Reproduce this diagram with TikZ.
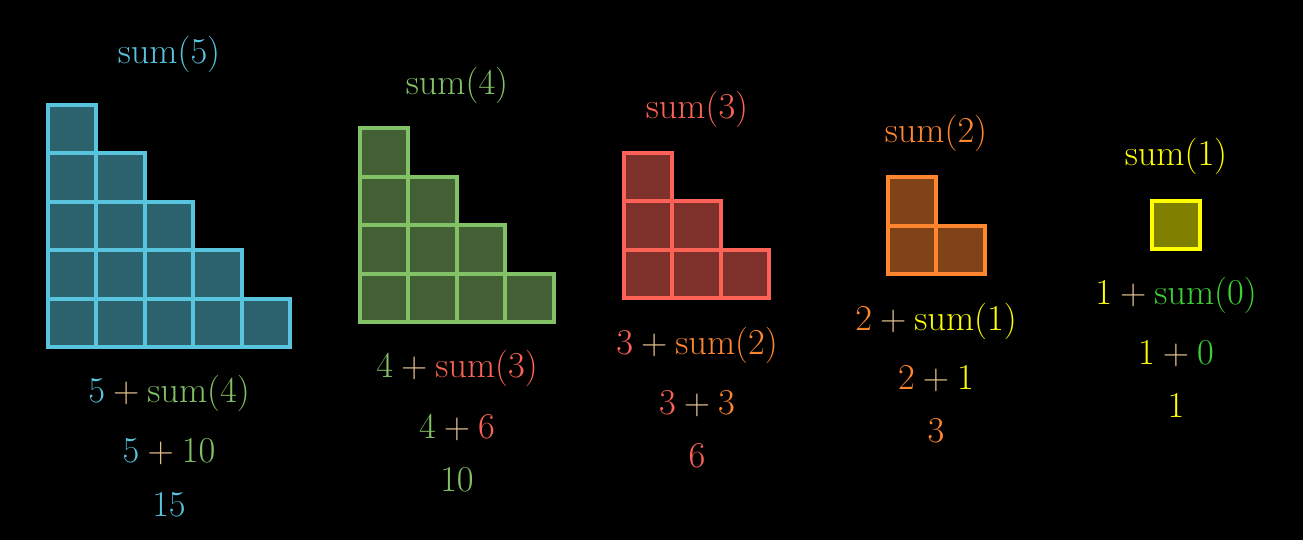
\documentclass[tikz,border=0pt]{standalone}
\usepackage{xcolor}
\definecolor{cblue}{RGB}{88,196,221}
\definecolor{cgreen}{RGB}{131,193,103}
\definecolor{cred}{RGB}{252,98,85}
\definecolor{corange}{RGB}{255,134,47}
\definecolor{cyellow}{RGB}{255,255,0}
\definecolor{cplus}{RGB}{225,190,140}
\definecolor{czero}{RGB}{60,210,50}

% one staircase: #1 size, #2 left, #3 bottom, #4 colour
\newcommand{\stairs}[4]{%
  \foreach \r in {1,...,#1}{%
    \pgfmathtruncatemacro{\w}{#1-\r+1}%
    \foreach \j in {1,...,\w}{%
      \draw[cell=#4] ({#2+(\j-1)*48.4},{#3-(\r-1)*48.4}) rectangle ++(48.4,-48.4);
    }%
  }%
}
\newcommand{\pl}{\mathbin{\textcolor{cplus}{+}}}

\begin{document}
\begin{tikzpicture}[x=0.02cm, y=-0.02cm,
        cell/.style={draw=#1, fill=#1!50!black, line width=2.2pt},
        lbl/.style={anchor=base, inner sep=0pt, font=\fontsize{22.4}{27}\selectfont}
    ]

        % Background
        \fill[black] (0,0) rectangle (1303,540);
        \useasboundingbox (0,0) rectangle (1303,540);

        % Staircases
        \stairs{5}{48}{347}{cblue}
        \stairs{4}{360}{322}{cgreen}
        \stairs{3}{624}{298}{cred}
        \stairs{2}{888}{274}{corange}
        \stairs{1}{1152}{249}{cyellow}

        % Titles
        \node[lbl, text=cblue] (title5) at (169,64) {$\mathrm{sum}(5)$};
        \node[lbl, text=cgreen] (title4) at (457,95) {$\mathrm{sum}(4)$};
        \node[lbl, text=cred] (title3) at (697,119) {$\mathrm{sum}(3)$};
        \node[lbl, text=corange] (title2) at (936,143) {$\mathrm{sum}(2)$};
        \node[lbl, text=cyellow] (title1) at (1176,166) {$\mathrm{sum}(1)$};

        % Recursive step
        \node[lbl] (step5) at (169,403) {$\textcolor{cblue}{5}\pl\textcolor{cgreen}{\mathrm{sum}(4)}$};
        \node[lbl] (step4) at (457,378) {$\textcolor{cgreen}{4}\pl\textcolor{cred}{\mathrm{sum}(3)}$};
        \node[lbl] (step3) at (697,355) {$\textcolor{cred}{3}\pl\textcolor{corange}{\mathrm{sum}(2)}$};
        \node[lbl] (step2) at (936,331) {$\textcolor{corange}{2}\pl\textcolor{cyellow}{\mathrm{sum}(1)}$};
        \node[lbl] (step1) at (1176,305) {$\textcolor{cyellow}{1}\pl\textcolor{czero}{\mathrm{sum}(0)}$};

        % Substituted values
        \node[lbl] (sub5) at (169,463) {$\textcolor{cblue}{5}\pl\textcolor{cgreen}{10}$};
        \node[lbl] (sub4) at (457,439) {$\textcolor{cgreen}{4}\pl\textcolor{cred}{6}$};
        \node[lbl] (sub3) at (697,415) {$\textcolor{cred}{3}\pl\textcolor{corange}{3}$};
        \node[lbl] (sub2) at (936,390) {$\textcolor{corange}{2}\pl\textcolor{cyellow}{1}$};
        \node[lbl] (sub1) at (1176,365) {$\textcolor{cyellow}{1}\pl\textcolor{czero}{0}$};

        % Results
        \node[lbl, text=cblue] (res5) at (169,517) {$15$};
        \node[lbl, text=cgreen] (res4) at (457,492) {$10$};
        \node[lbl, text=cred] (res3) at (697,468) {$6$};
        \node[lbl, text=corange] (res2) at (936,443) {$3$};
        \node[lbl, text=cyellow] (res1) at (1176,418) {$1$};

    \end{tikzpicture}
\end{document}
